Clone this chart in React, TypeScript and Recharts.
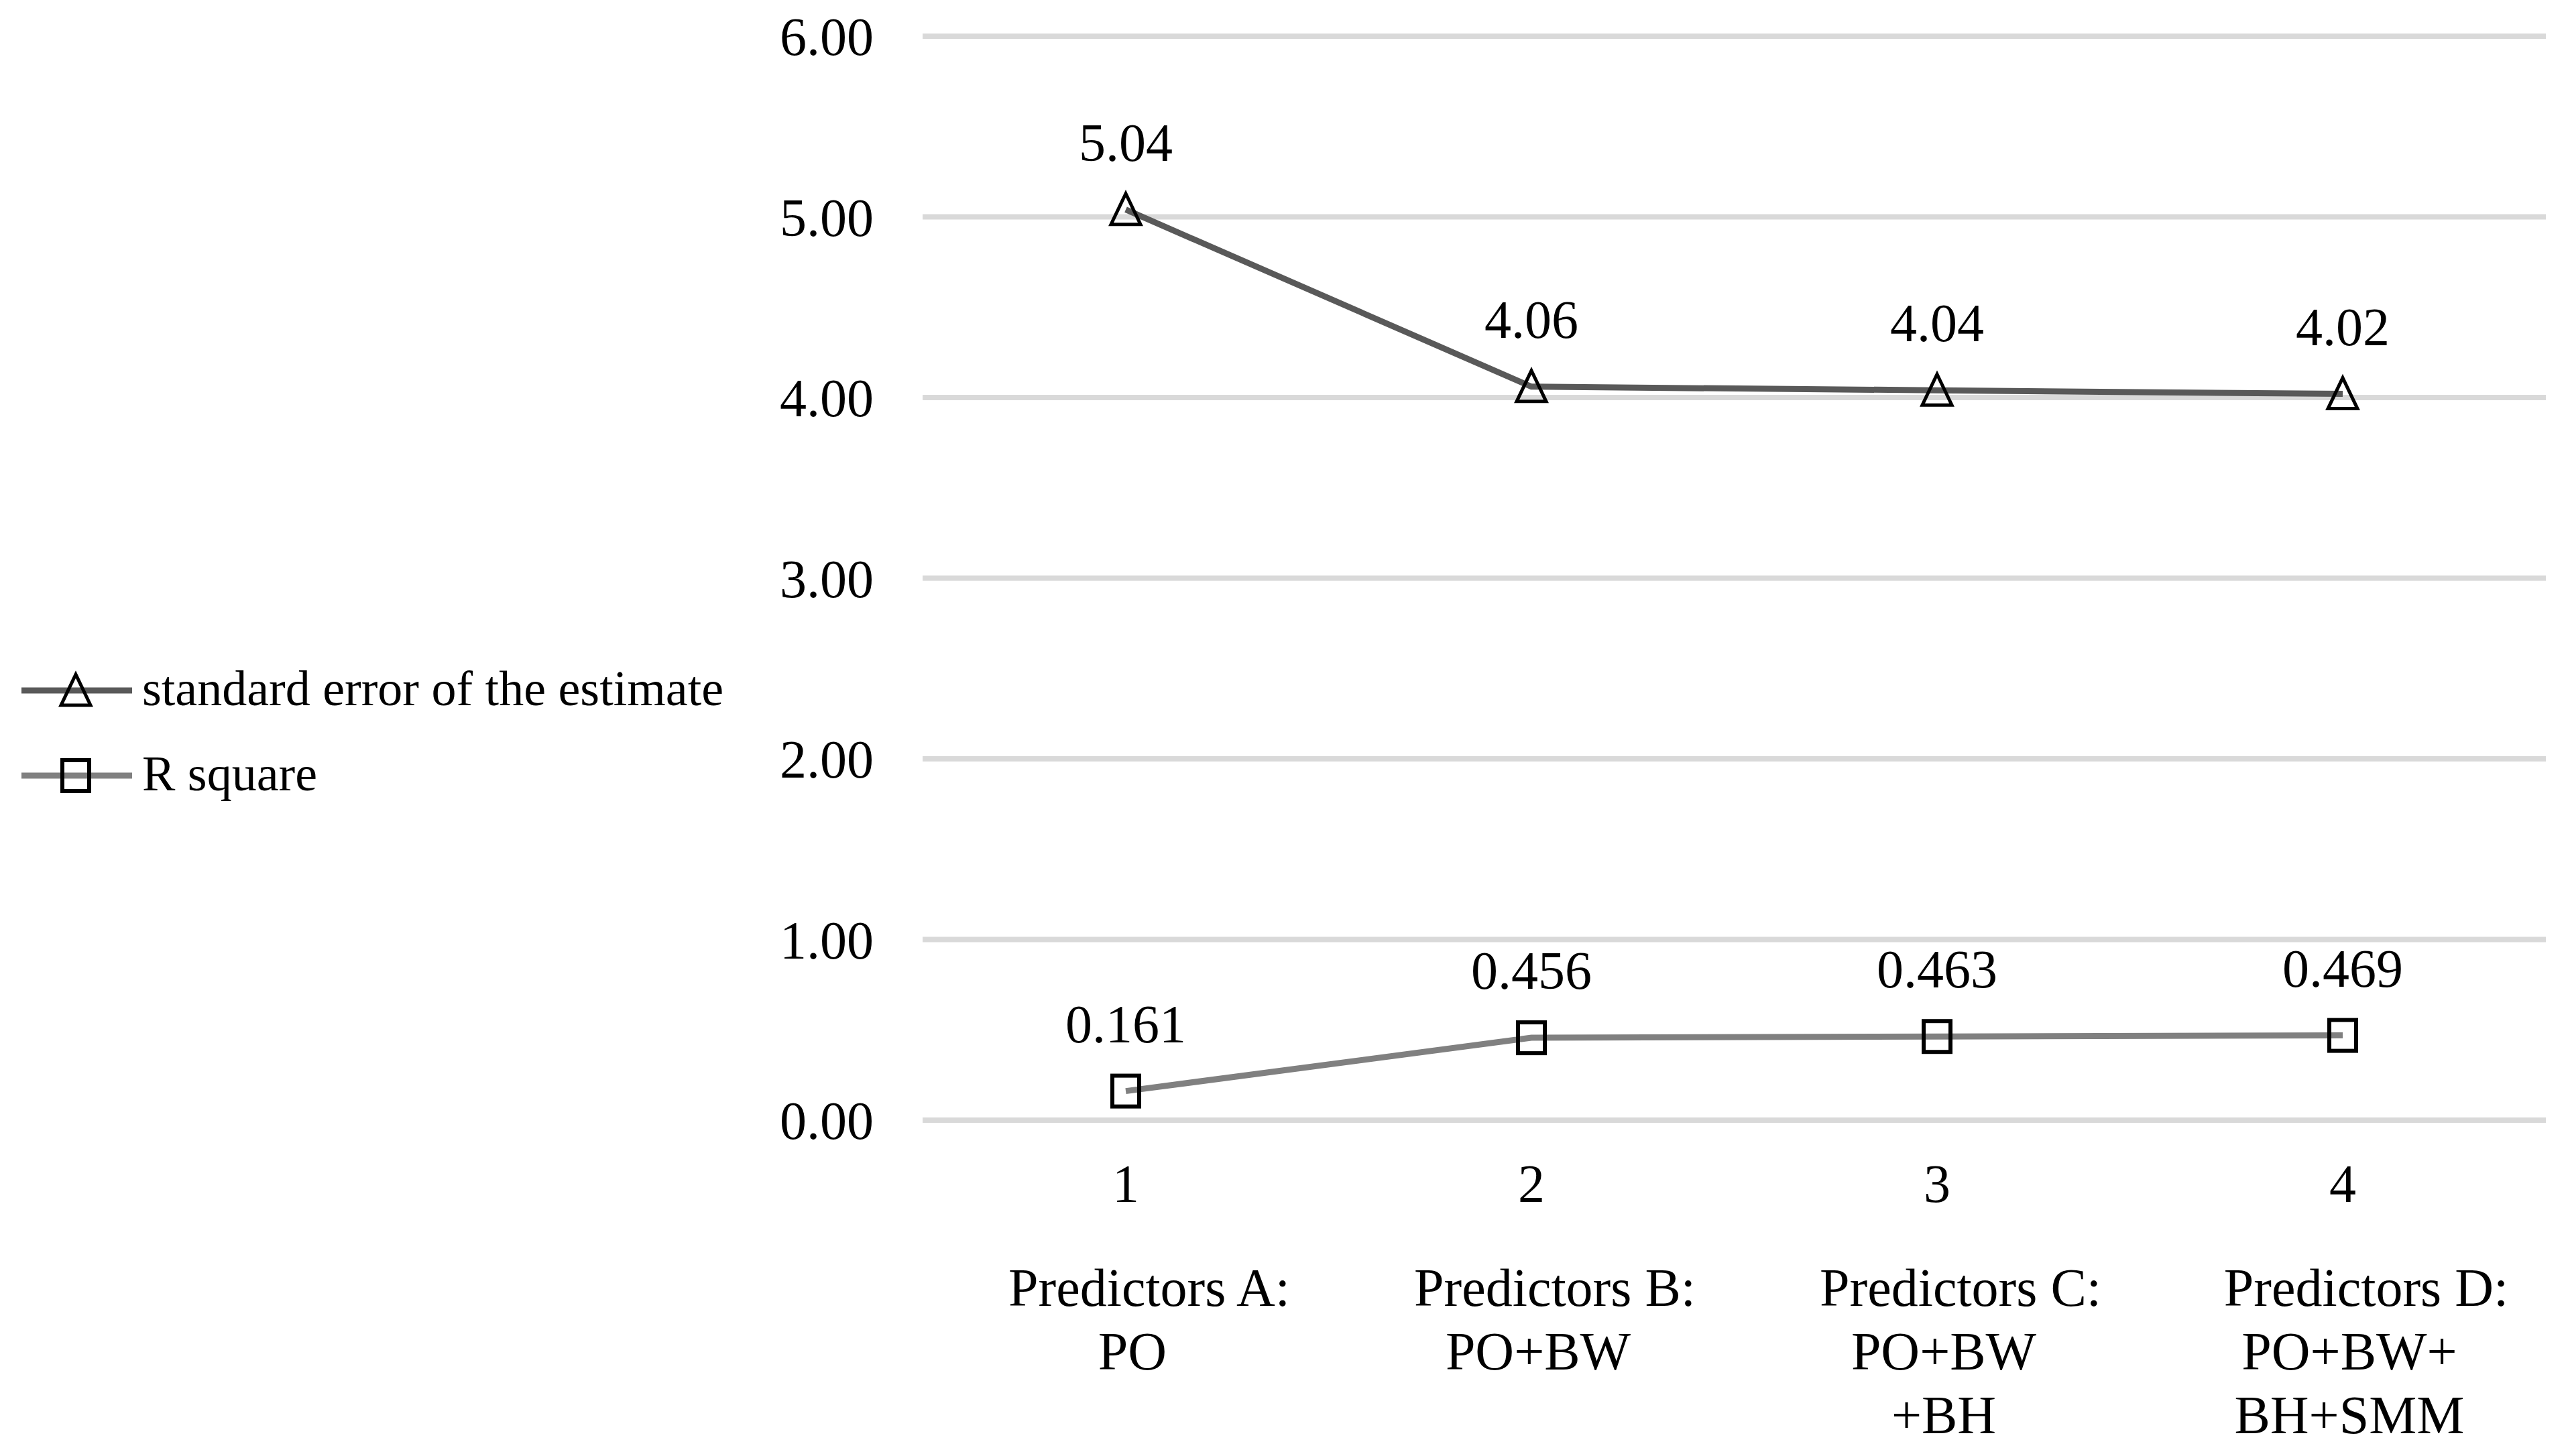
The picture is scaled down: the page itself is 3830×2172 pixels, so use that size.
import React from "react";
import { LineChart, Line, XAxis, YAxis, CartesianGrid, LabelList } from "recharts";

const CATEGORIES = ["1", "2", "3", "4"];
const GROUP_LABELS = [
  ["Predictors A:", "PO"],
  ["Predictors B:", "PO+BW"],
  ["Predictors C:", "PO+BW", "+BH"],
  ["Predictors D:", "PO+BW+", "BH+SMM"],
];
const STD_ERROR = [5.04, 4.06, 4.04, 4.02];
const R_SQUARE = [0.161, 0.456, 0.463, 0.469];
const Y_TICKS = [0, 1, 2, 3, 4, 5, 6];

const FONT = "Liberation Serif, Times New Roman, serif";

const SERIES = [
  { key: "se", name: "standard error of the estimate", color: "#595959", shape: "triangle", digits: 2 },
  { key: "r2", name: "R square", color: "#808080", shape: "square", digits: 3 },
];

const data = CATEGORIES.map((name, i) => ({
  name,
  se: STD_ERROR[i],
  r2: R_SQUARE[i],
}));

const Marker = ({ cx, cy, shape }: { cx: number; cy: number; shape: string }) => {
  if (cx == null || cy == null) return null;
  if (shape === "triangle") {
    return (
      <polygon
        points={`${cx},${cy - 24} ${cx + 22},${cy + 22} ${cx - 22},${cy + 22}`}
        fill="none"
        stroke="#000"
        strokeWidth={5}
      />
    );
  }
  return (
    <rect x={cx - 20} y={cy - 23} width={40} height={46} fill="none" stroke="#000" strokeWidth={6} />
  );
};

// two-level category axis: model number, then predictor set
const XTick = (props: any) => {
  const { x, y, payload } = props;
  const lines = GROUP_LABELS[payload.index] || [];
  return (
    <g>
      <text x={x} y={y + 122} textAnchor="middle" fontSize={80} fontFamily={FONT} fill="#000">
        {payload.value}
      </text>
      {lines.map((line, i) => (
        <text
          key={i}
          x={x + (i === 0 ? 35 : 10)}
          y={y + 277 + i * 95}
          textAnchor="middle"
          fontSize={80}
          fontFamily={FONT}
          fill="#000"
        >
          {line}
        </text>
      ))}
    </g>
  );
};

const makeLabel = (digits: number) => (props: any) => {
  const { x, y, value } = props;
  return (
    <text x={x} y={y - 73} textAnchor="middle" fontSize={80} fontFamily={FONT} fill="#000">
      {Number(value).toFixed(digits)}
    </text>
  );
};

const LegendBox = () => (
  <svg width={1300} height={260} style={{ position: "absolute", left: 0, top: 960 }}>
    {SERIES.map((s, i) => {
      const cy = 70 + i * 127;
      return (
        <g key={s.key}>
          <line x1={32} x2={197} y1={cy} y2={cy} stroke={s.color} strokeWidth={9} />
          <Marker cx={113} cy={cy} shape={s.shape} />
          <text x={212} y={cy + 22} fontSize={74} fontFamily={FONT} fill="#000">
            {s.name}
          </text>
        </g>
      );
    })}
  </svg>
);

export default function App() {
  return (
    <div style={{ position: "absolute", left: 0, top: 0, width: 3830, height: 2172, background: "#fff" }}>
      <LineChart
        width={3830}
        height={2172}
        data={data}
        margin={{ top: 54, right: 33, left: 1176, bottom: 21 }}
      >
        <CartesianGrid vertical={false} stroke="#d9d9d9" strokeWidth={8} />
        <XAxis
          dataKey="name"
          height={480}
          axisLine={false}
          tickLine={false}
          tickSize={0}
          tickMargin={0}
          padding={{ left: 303, right: 303 }}
          tick={<XTick />}
          interval={0}
        />
        <YAxis
          domain={[0, 6]}
          ticks={Y_TICKS}
          width={200}
          axisLine={false}
          tickLine={false}
          tickSize={0}
          tickMargin={73}
          tickFormatter={(v: number) => v.toFixed(2)}
          tick={{ fontSize: 80, fontFamily: FONT, fill: "#000" }}
        />
        {SERIES.map((s) => (
          <Line
            key={s.key}
            dataKey={s.key}
            name={s.name}
            type="linear"
            stroke={s.color}
            strokeWidth={9}
            dot={(p: any) => <Marker key={`${s.key}-${p.index}`} cx={p.cx} cy={p.cy} shape={s.shape} />}
            activeDot={false}
            isAnimationActive={false}
          >
            <LabelList dataKey={s.key} content={makeLabel(s.digits)} />
          </Line>
        ))}
      </LineChart>
      <LegendBox />
    </div>
  );
}
